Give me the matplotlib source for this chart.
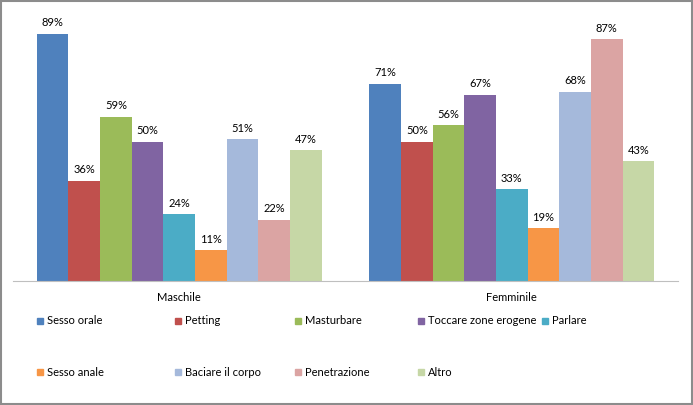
import numpy as np
import matplotlib
matplotlib.use("Agg")
import matplotlib.pyplot as plt
from matplotlib.patches import Rectangle

plt.rcParams['font.family'] = ['Lato', 'DejaVu Sans']

# data
groups = ['Maschile', 'Femminile']
series = ['Sesso orale', 'Petting', 'Masturbare', 'Toccare zone erogene', 'Parlare',
          'Sesso anale', 'Baciare il corpo', 'Penetrazione', 'Altro']
maschile = [89, 36, 59, 50, 24, 11, 51, 22, 47]
femminile = [71, 50, 56, 67, 33, 19, 68, 87, 43]
colors = ['#4F81BD', '#C0504D', '#9BBB59', '#8064A2', '#4BACC6',
          '#F79646', '#A5B9DB', '#DBA4A3', '#C6D7A6']

values = np.array([maschile, femminile]) / 100.0

fig = plt.figure(figsize=(6.93, 4.05), dpi=100)
ax = fig.add_axes([0.0188, 0.3062, 0.9596, 0.6864])

x = np.arange(len(groups))
w = 0.0952
n = len(series)
for i in range(n):
    pos = x + (i - (n - 1) / 2) * w
    bars = ax.bar(pos, values[:, i], width=w, color=colors[i], label=series[i])
    for b, v in zip(bars, values[:, i]):
        ax.text(b.get_x() + b.get_width() / 2, v + 0.02, f'{v:.0%}',
                ha='center', va='bottom', fontsize=8)

ax.set_xlim(-0.5, 1.5)
ax.set_ylim(0, 1.0)
ax.set_yticks([])
ax.set_xticks(x)
ax.set_xticklabels(groups, fontsize=8)
ax.tick_params(axis='x', length=0, pad=8)
for s in ['top', 'right', 'left']:
    ax.spines[s].set_visible(False)
ax.spines['bottom'].set_color('#BFBFBF')
ax.patch.set_alpha(0)

# legend drawn as two rows with equal column widths
col_x = [40, 178, 298, 421, 545]
row_y = [321, 372]
W, H = 693, 405
for i, name in enumerate(series):
    r, c = divmod(i, 5)
    px, py = col_x[c], row_y[r]
    fig.patches.append(Rectangle(((px - 3) / W, 1 - (py + 3) / H), 6 / W, 6 / H,
                                 transform=fig.transFigure, color=colors[i]))
    fig.text((px + 7) / W, 1 - py / H, name, fontsize=8, va='center', ha='left')

# outer frame
fig.patches.append(Rectangle((0.0015, 0.0025), 0.997, 0.995, transform=fig.transFigure,
                             fill=False, edgecolor='#8C8C8C', linewidth=1.5))

fig.savefig('out.png', dpi=100)
